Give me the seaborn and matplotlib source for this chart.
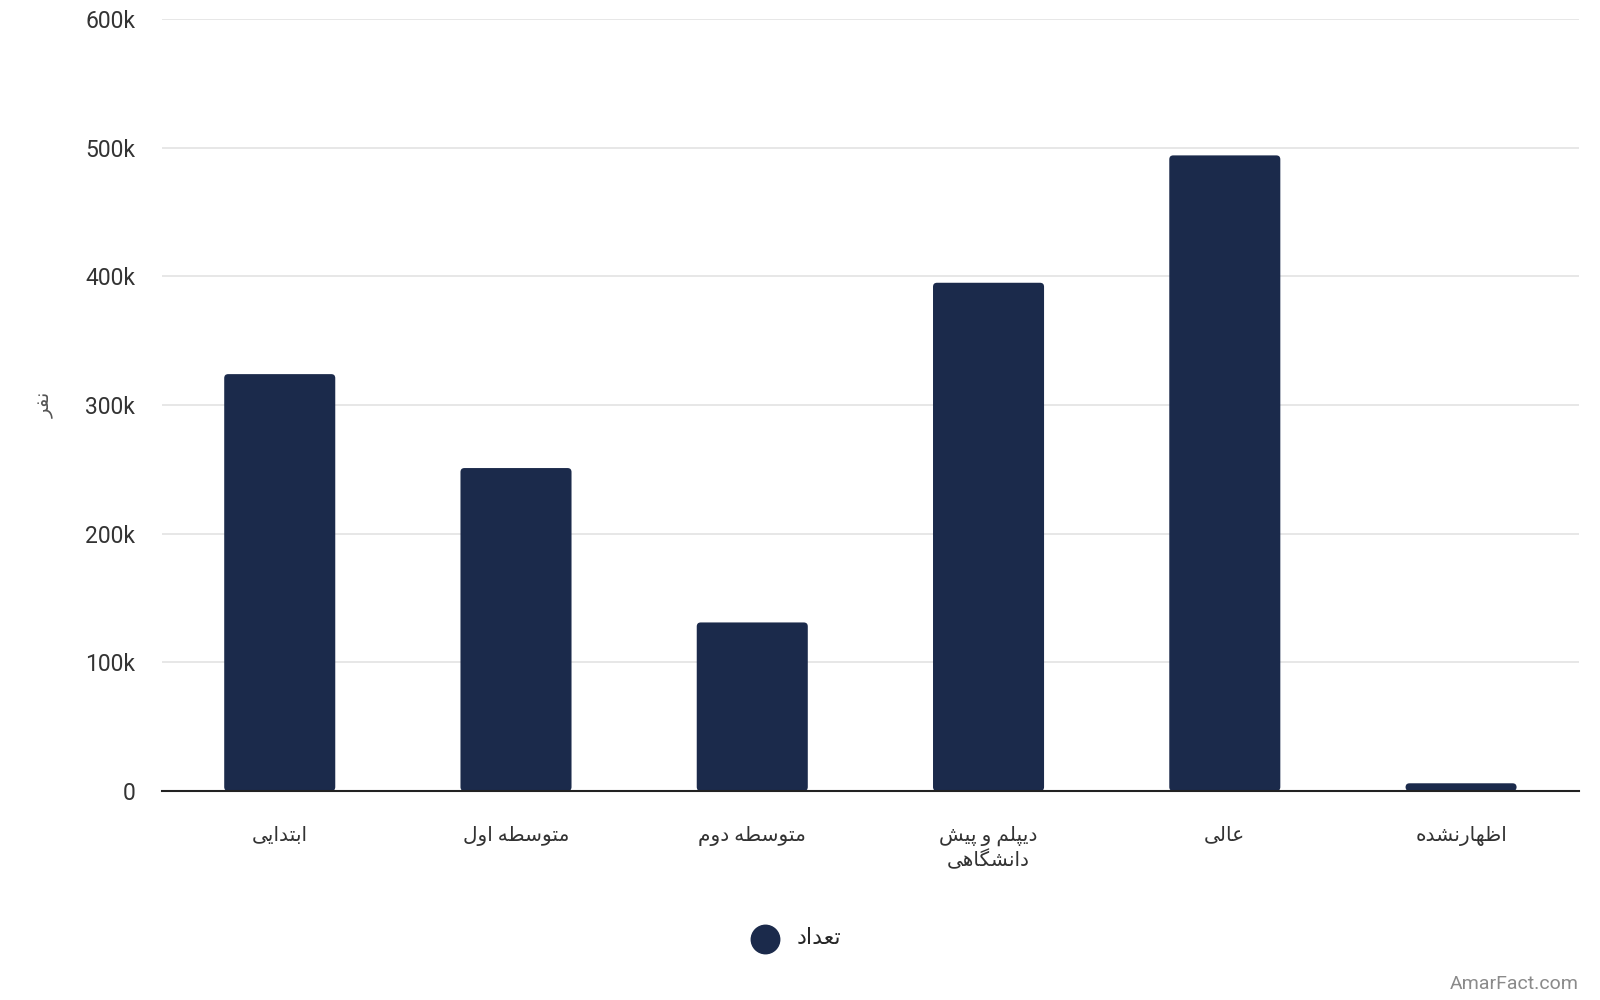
import matplotlib
matplotlib.use("Agg")
import matplotlib.pyplot as plt
from matplotlib.patches import FancyBboxPatch
import seaborn as sns
import pandas as pd

categories = ["ابتدایی", "متوسطه اول", "متوسطه دوم", "دیپلم و پیش\nدانشگاهی", "عالی", "اظهارنشده"]
values = [324000, 251000, 131000, 395000, 494000, 6000]
y_ticks = [0, 100000, 200000, 300000, 400000, 500000, 600000]
y_tick_labels = ["0", "100k", "200k", "300k", "400k", "500k", "600k"]
y_title = "نفر"
legend_label = "تعداد"
watermark = "AmarFact.com"

# --- minimal Arabic/Persian shaping (presentation forms + RTL ordering) ---
FORMS = {
    "ا": ("\uFE8D", "\uFE8E", None, None),
    "ب": ("\uFE8F", "\uFE90", "\uFE91", "\uFE92"),
    "ت": ("\uFE95", "\uFE96", "\uFE97", "\uFE98"),
    "د": ("\uFEA9", "\uFEAA", None, None),
    "ی": ("\uFBFC", "\uFBFD", "\uFBFE", "\uFBFF"),
    "م": ("\uFEE1", "\uFEE2", "\uFEE3", "\uFEE4"),
    "و": ("\uFEED", "\uFEEE", None, None),
    "س": ("\uFEB1", "\uFEB2", "\uFEB3", "\uFEB4"),
    "ط": ("\uFEC1", "\uFEC2", "\uFEC3", "\uFEC4"),
    "ه": ("\uFEE9", "\uFEEA", "\uFEEB", "\uFEEC"),
    "ل": ("\uFEDD", "\uFEDE", "\uFEDF", "\uFEE0"),
    "پ": ("\uFB56", "\uFB57", "\uFB58", "\uFB59"),
    "ش": ("\uFEB5", "\uFEB6", "\uFEB7", "\uFEB8"),
    "ن": ("\uFEE5", "\uFEE6", "\uFEE7", "\uFEE8"),
    "گ": ("\uFB92", "\uFB93", "\uFB94", "\uFB95"),
    "ع": ("\uFEC9", "\uFECA", "\uFECB", "\uFECC"),
    "ظ": ("\uFEC5", "\uFEC6", "\uFEC7", "\uFEC8"),
    "ر": ("\uFEAD", "\uFEAE", None, None),
    "ف": ("\uFED1", "\uFED2", "\uFED3", "\uFED4"),
}


def shape_line(s):
    out = []
    n = len(s)
    for i, ch in enumerate(s):
        if ch not in FORMS:
            out.append(ch)
            continue
        prev = s[i - 1] if i > 0 else None
        nxt = s[i + 1] if i < n - 1 else None
        joins_prev = prev in FORMS and FORMS[prev][2] is not None
        joins_next = nxt in FORMS and FORMS[ch][2] is not None
        iso, fin, ini, med = FORMS[ch]
        if joins_prev and joins_next:
            out.append(med)
        elif joins_prev:
            out.append(fin)
        elif joins_next:
            out.append(ini)
        else:
            out.append(iso)
    return "".join(out)[::-1]


def shape(s):
    return "\n".join(shape_line(line) for line in s.split("\n"))


sns.set_theme(style="white")
plt.rcParams["font.family"] = ["Roboto", "DejaVu Sans"]

bar_color = "#1b2a4b"
df = pd.DataFrame({"category": [shape(c) for c in categories], "value": values})

fig = plt.figure(figsize=(16, 10), dpi=100)
ax = fig.add_axes([0.101, 0.209, 0.886, 0.772])

sns.barplot(data=df, x="category", y="value", color=bar_color, width=0.47,
            saturation=1, ax=ax, zorder=3)

ax.set_ylim(0, 600000)
ax.set_xlim(-0.5, len(categories) - 0.5)

# round the bar corners slightly (geometry taken from seaborn's own patches)
bbox = ax.get_window_extent()
x_per_px = (ax.get_xlim()[1] - ax.get_xlim()[0]) / bbox.width
y_per_px = (ax.get_ylim()[1] - ax.get_ylim()[0]) / bbox.height
for p in list(ax.patches):
    x0, y0 = p.get_x(), p.get_y()
    w, h = p.get_width(), p.get_height()
    rr = FancyBboxPatch((x0, y0), w, h,
                        boxstyle=f"round,pad=0,rounding_size={4 * x_per_px}",
                        mutation_aspect=y_per_px / x_per_px,
                        facecolor=bar_color, edgecolor="none", zorder=3)
    p.remove()
    ax.add_patch(rr)

ax.set_yticks(y_ticks)
ax.set_yticklabels(y_tick_labels, fontsize=16.5, color="#333333")
ax.yaxis.grid(True, color="#e3e3e3", linewidth=1.2, zorder=0)
ax.xaxis.grid(False)
for side in ["left", "right", "top"]:
    ax.spines[side].set_visible(False)
ax.spines["bottom"].set_color("#222222")
ax.spines["bottom"].set_linewidth(1.5)
ax.spines["bottom"].set_zorder(4)
ax.tick_params(axis="y", length=0, pad=30 - 11)
ax.tick_params(axis="x", length=0, pad=25, labelsize=14.5, labelcolor="#333333")
ax.set_xlabel("")
ax.set_ylabel(shape(y_title), fontsize=14, color="#555555", labelpad=22)

ax.scatter([], [], s=420, color=bar_color, label=shape(legend_label))
leg = ax.legend(loc="center", frameon=False, fontsize=16, handletextpad=0.4)
leg.set_bbox_to_anchor((0.495, 0.061), transform=fig.transFigure)

fig.text(0.987, 0.016, watermark, ha="right", va="center", fontsize=14, color="#8a8a8a")

fig.savefig("out.png", dpi=100, facecolor="white")
